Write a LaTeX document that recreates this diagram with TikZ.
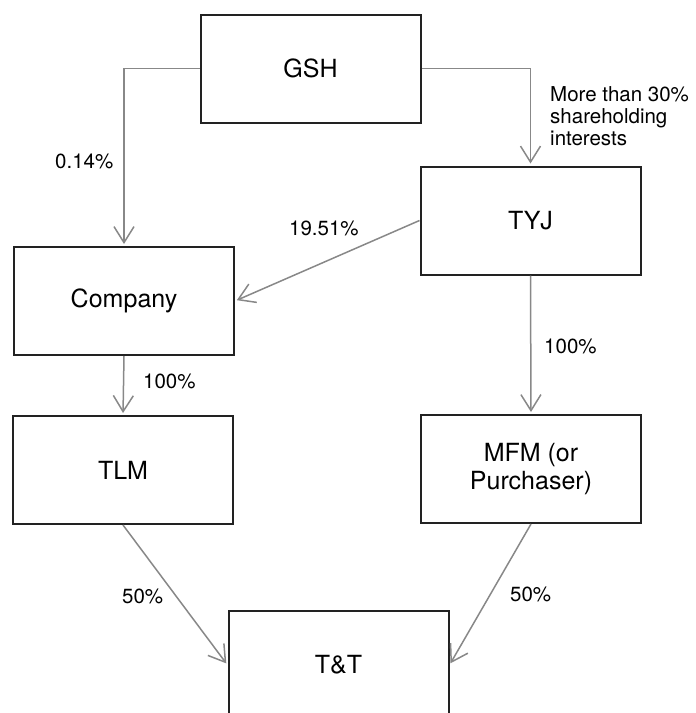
\documentclass[tikz,border=0pt]{standalone}
\usepackage{fontspec}
\setmainfont{TeX Gyre Heros}
\usetikzlibrary{arrows.meta}
\definecolor{boxline}{HTML}{222222}
\definecolor{arrowgray}{HTML}{888888}
\begin{document}
\begin{tikzpicture}[x=1pt,y=-1pt,
  entity/.style={draw=boxline, line width=2pt, minimum width=220pt, minimum height=108pt,
    inner sep=2pt, align=center, font=\fontsize{25}{28}\selectfont},
  conn/.style={draw=arrowgray, line width=1.5pt,
    -{Straight Barb[length=16pt,width=20pt,line width=1.5pt]}, shorten >=2pt},
  lbl/.style={anchor=base west, inner sep=0pt, font=\fontsize{20.5}{22}\selectfont}]
\useasboundingbox (0,0) rectangle (696,713);
\begin{scope}
\clip (0,0) rectangle (696,713);
\node[entity] (gsh) at (310.5,68.5) {GSH};
\node[entity] (tyj) at (530.5,220.5) {TYJ};
\node[entity] (company) at (124,301) {Company};
\node[entity] (tlm) at (123,470) {TLM};
\node[entity] (mfm) at (531,469) {MFM (or\\Purchaser)};
\node[entity] (tt) at (338.5,665) {T\&T};
\draw[conn] (gsh.west) -| (company.north);
\draw[conn] (gsh.east) -| (tyj.north);
\draw[conn] (tyj.west) -- (company.east);
\draw[conn] (company.south) -- (tlm.north);
\draw[conn] (tyj.south) -- (mfm.north);
\draw[conn] (tlm.south) -- (tt.west);
\draw[conn] (mfm.south) -- (tt.east);
\end{scope}
\node[lbl] (l1) at (55,168) {0.14\%};
\node[lbl] (l2) at (289,235) {19.51\%};
\node[lbl] (l3) at (550,101) {\begin{tabular}[t]{@{}l@{}}More than 30\%\\shareholding\\interests\end{tabular}};
\node[lbl] (l4) at (143,388) {100\%};
\node[lbl] (l5) at (544,353) {100\%};
\node[lbl] (l6) at (122,603) {50\%};
\node[lbl] (l7) at (510,601) {50\%};
\end{tikzpicture}
\end{document}
